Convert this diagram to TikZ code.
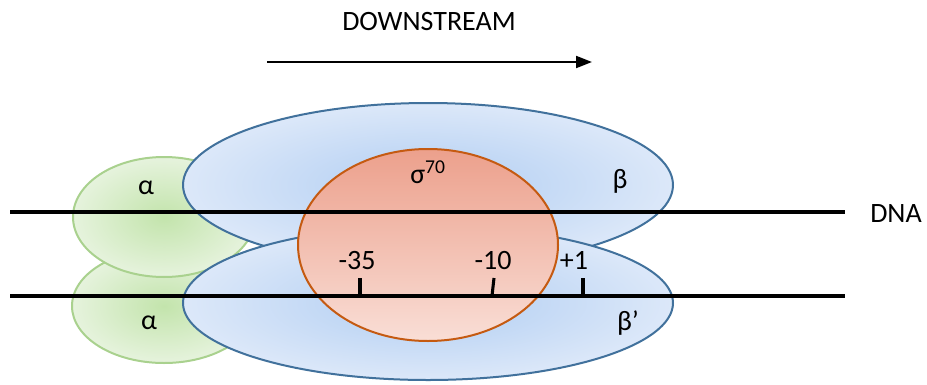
\documentclass[tikz,border=0pt]{standalone}
\usepackage{fontspec}
\setmainfont{Carlito}
\usetikzlibrary{arrows.meta}
\definecolor{grnline}{HTML}{A9D18E}
\definecolor{grnin}{HTML}{C3E4AC}
\definecolor{grnout}{HTML}{E6F3DD}
\definecolor{bluline}{HTML}{41719C}
\definecolor{bluin}{HTML}{B0CDF2}
\definecolor{bluout}{HTML}{DCE8F9}
\definecolor{sigline}{HTML}{C55A11}
\definecolor{sigtop}{HTML}{ECA08C}
\definecolor{sigbot}{HTML}{F9DED6}
\tikzset{
  lbl/.style={font=\fontsize{21}{24}\selectfont, inner sep=0pt},
  num/.style={font=\fontsize{21}{24}\selectfont, inner sep=0pt},
  dna/.style={line width=2.3pt, black},
  tick/.style={line width=2.3pt, black},
  grnedge/.style={draw=grnline, line width=1.5pt},
  bluedge/.style={draw=bluline, line width=1.5pt},
  sigedge/.style={draw=sigline, line width=1.5pt},
}
\begin{document}
\begin{tikzpicture}[x=0.75pt, y=-0.75pt]
\useasboundingbox (0,0) rectangle (927,385);
% alpha subunits
\shade[inner color=grnin, outer color=grnout] (164,306) ellipse [x radius=92, y radius=57];
\draw[grnedge] (164,306) ellipse [x radius=92, y radius=57];
\shade[inner color=grnin, outer color=grnout] (164,217) ellipse [x radius=91, y radius=60];
\draw[grnedge] (164,217) ellipse [x radius=91, y radius=60];
% beta
\shade[inner color=bluin, outer color=bluout] (428,185) ellipse [x radius=245, y radius=82];
\draw[bluedge] (428,185) ellipse [x radius=245, y radius=82];
% beta prime
\shade[inner color=bluin, outer color=bluout] (428,303) ellipse [x radius=245, y radius=77];
\draw[bluedge] (428,303) ellipse [x radius=245, y radius=77];
% sigma
\shade[top color=sigtop, bottom color=sigbot] (428,245) ellipse [x radius=130, y radius=96];
\draw[sigedge] (428,245) ellipse [x radius=130, y radius=96];
% DNA
\coordinate (d1a) at (10,212);
\coordinate (d1b) at (845,212);
\coordinate (d2a) at (10,296);
\coordinate (d2b) at (845,296);
\draw[dna] (d1a) -- (d1b);
\draw[dna] (d2a) -- (d2b);
% ticks
\coordinate (t35a) at (360,278); \coordinate (t35b) at (360,296);
\coordinate (t10a) at (494,278); \coordinate (t10b) at (492,296);
\coordinate (t1a) at (583,278); \coordinate (t1b) at (583,296);
\draw[tick] (t35a) -- (t35b);
\draw[tick] (t10a) -- (t10b);
\draw[tick] (t1a) -- (t1b);
% labels
\node[lbl] (a1) at (146,188) {α};
\node[lbl] (a2) at (149,323) {α};
\node[lbl] (sig) at (428,172) {σ\textsuperscript{70}};
\node[lbl] (b) at (620,181) {β};
\node[lbl] (bp) at (628,323) {β’};
\node[lbl] (dnal) at (896,214) {DNA};
\node[num] (n35) at (357,261) {-35};
\node[num] (n10) at (493,261) {-10};
\node[num] (n1) at (574,260) {+1};
\node[lbl] (down) at (429,22) {DOWNSTREAM};
\coordinate (arra) at (267,62);
\coordinate (arrb) at (592,62);
\draw[line width=1.5pt, -{Triangle[length=12pt, width=9pt]}] (arra) -- (arrb);
\end{tikzpicture}
\end{document}
